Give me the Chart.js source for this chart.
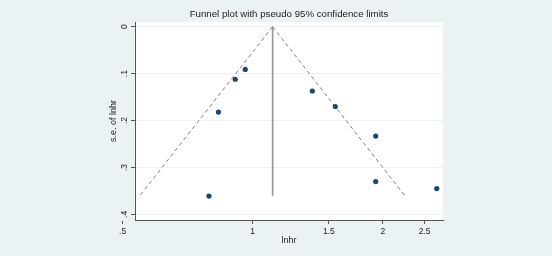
<!DOCTYPE html>
<html>
<head>
<meta charset="utf-8">
<script src="https://cdn.jsdelivr.net/npm/chart.js@4.4.0/dist/chart.umd.min.js"></script>
<style>
    html, body { margin: 0; padding: 0; background: #eaf2f3; }
    #wrap { width: 552px; height: 256px; }
</style>
</head>
<body>
<div id="wrap"><canvas id="myChart" width="552" height="256"></canvas></div>
<script>
// Study estimates: hazard ratio and s.e. of ln hr
const studyHr = [0.961, 0.911, 0.833, 0.792, 1.374, 1.553, 1.926, 1.926, 2.667];
const studySe = [0.091, 0.112, 0.182, 0.361, 0.137, 0.170, 0.233, 0.330, 0.345];

// Pooled estimate and the pseudo 95% confidence limits at the largest s.e.
const pooledHr = 1.112;
const maxSe = 0.361;
const lowerLimitHr = 0.547;
const upperLimitHr = 2.254;

// Tick labels
const xTickValues = [0.5, 1, 1.5, 2, 2.5];
const xTickLabels = ['.5', '1', '1.5', '2', '2.5'];
const yTickValues = [0, 0.1, 0.2, 0.3, 0.4];
const yTickLabels = ['0', '.1', '.2', '.3', '.4'];

const textColor = '#222222';
const axisColor = '#555555';

Chart.defaults.font.family = '"Liberation Sans", Arial, sans-serif';
Chart.defaults.color = textColor;

// Light graph region with a white plot region
const backgroundPlugin = {
    id: 'stataBackground',
    beforeDraw(chart) {
        const { ctx, chartArea } = chart;
        ctx.save();
        ctx.fillStyle = '#eaf2f3';
        ctx.fillRect(0, 0, chart.width, chart.height);
        ctx.fillStyle = '#ffffff';
        ctx.fillRect(chartArea.left, chartArea.top, chartArea.right - chartArea.left, chartArea.bottom - chartArea.top);
        ctx.restore();
    }
};

// y tick labels are turned on their side, as in Stata
const yLabelPlugin = {
    id: 'yLabels',
    afterDraw(chart) {
        const ctx = chart.ctx;
        const yScale = chart.scales.y;
        ctx.save();
        ctx.font = '8.5px "Liberation Sans", Arial, sans-serif';
        ctx.fillStyle = textColor;
        ctx.textAlign = 'center';
        ctx.textBaseline = 'middle';
        yTickValues.forEach((v, i) => {
            const y = yScale.getPixelForValue(v);
            ctx.save();
            ctx.translate(yScale.right - 10.5, y);
            ctx.rotate(-Math.PI / 2);
            ctx.fillText(yTickLabels[i], 0, 0);
            ctx.restore();
        });
        ctx.restore();
    }
};

const data = {
    datasets: [
        {
            label: 'Studies',
            data: studyHr.map((hr, i) => ({ x: hr, y: studySe[i] })),
            showLine: false,
            pointRadius: 2.6,
            pointBackgroundColor: '#1a476f',
            pointBorderColor: '#1a476f',
            pointBorderWidth: 0,
            order: 0
        },
        {
            label: 'Pooled',
            data: [{ x: pooledHr, y: 0 }, { x: pooledHr, y: maxSe }],
            showLine: true,
            pointRadius: 0,
            borderColor: '#949494',
            borderWidth: 1.6,
            order: 1
        },
        {
            label: 'Lower limit',
            data: [{ x: pooledHr, y: 0 }, { x: lowerLimitHr, y: maxSe }],
            showLine: true,
            pointRadius: 0,
            borderColor: '#707070',
            borderWidth: 0.9,
            borderDash: [4, 3],
            order: 1
        },
        {
            label: 'Upper limit',
            data: [{ x: pooledHr, y: 0 }, { x: upperLimitHr, y: maxSe }],
            showLine: true,
            pointRadius: 0,
            borderColor: '#707070',
            borderWidth: 0.9,
            borderDash: [4, 3],
            order: 1
        }
    ]
};

const config = {
    type: 'scatter',
    data,
    options: {
        responsive: false,
        animation: false,
        devicePixelRatio: 1,
        layout: {
            padding: { left: 100, right: 109, top: 0, bottom: 0 }
        },
        scales: {
            x: {
                type: 'logarithmic',
                min: 0.534,
                max: 2.757,
                afterBuildTicks: scale => {
                    scale.ticks = xTickValues.map(v => ({ value: v }));
                },
                afterFit: scale => {
                    scale.height = 36;
                },
                ticks: {
                    autoSkip: false,
                    maxRotation: 0,
                    padding: 2.5,
                    color: textColor,
                    font: { size: 8.5 },
                    callback: (value, index) => xTickLabels[index]
                },
                grid: {
                    drawOnChartArea: false,
                    drawTicks: true,
                    tickLength: 4,
                    tickColor: axisColor
                },
                border: { color: axisColor, width: 1 },
                title: {
                    display: true,
                    text: 'lnhr',
                    color: textColor,
                    font: { size: 9 },
                    padding: { top: 0, bottom: 10 }
                }
            },
            y: {
                type: 'linear',
                reverse: true,
                min: -0.010,
                max: 0.412,
                afterBuildTicks: scale => {
                    scale.ticks = yTickValues.map(v => ({ value: v }));
                },
                afterFit: scale => {
                    scale.width = 35;
                },
                ticks: { display: false },
                grid: {
                    color: '#eaf2f3',
                    lineWidth: 1,
                    drawTicks: true,
                    tickLength: 4,
                    tickColor: axisColor
                },
                border: { color: axisColor, width: 1 },
                title: {
                    display: true,
                    text: 's.e. of lnhr',
                    color: textColor,
                    font: { size: 9 },
                    padding: { top: 8.5, bottom: 0 }
                }
            }
        },
        plugins: {
            legend: { display: false },
            tooltip: { enabled: false },
            title: {
                display: true,
                text: 'Funnel plot with pseudo 95% confidence limits',
                color: textColor,
                fullSize: false,
                font: { size: 9.7, weight: 'normal' },
                padding: { top: 9, bottom: 1.4 }
            }
        }
    },
    plugins: [backgroundPlugin, yLabelPlugin]
};

window.myChart = new Chart(document.getElementById('myChart'), config);
</script>
</body>
</html>
